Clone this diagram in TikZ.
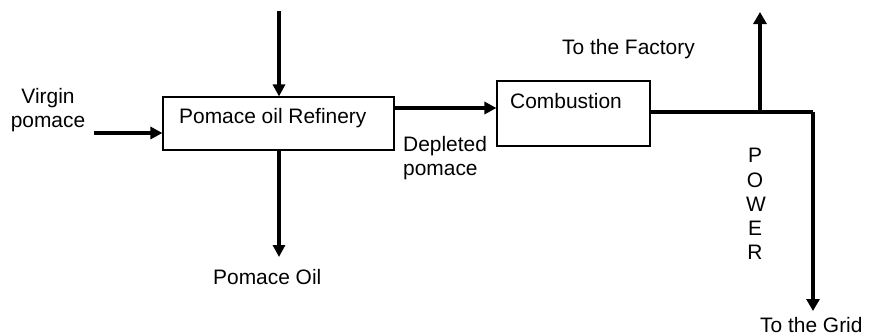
\documentclass[tikz,border=0pt]{standalone}
\usepackage{fontspec}
\setmainfont{Liberation Sans}
\usetikzlibrary{arrows.meta}
\begin{document}
\begin{tikzpicture}[x=1bp,y=-1bp,
  every node/.style={font=\fontsize{21}{24}\selectfont, inner sep=0pt},
  boxnode/.style={draw, line width=1.1bp, minimum width=#1, inner sep=0pt},
  flow/.style={line width=3.6bp, -{Triangle[length=12bp,width=12bp]}},
  powerline/.style={line width=4.5bp},
  powerarrow/.style={line width=4.5bp, -{Triangle[length=12bp,width=13bp]}}]
\useasboundingbox (0,0) rectangle (873,335);
% boxes
\node[boxnode=231bp, minimum height=53bp] (ref) at (278.5,123.5) {};
\node[anchor=base west] (reft) at (179,123) {Pomace oil Refinery};
\node[boxnode=153bp, minimum height=65bp] (comb) at (573.5,113.5) {};
\node[anchor=base west] (combt) at (510,108) {Combustion};
% coordinates
\coordinate (topin) at (279,11);
\coordinate (vin) at (94,133);
\coordinate (oilout) at (279,257);
\coordinate (corner) at (813,112);
\coordinate (split) at (760,112);
\coordinate (factory) at (760,12);
\coordinate (grid) at (813,311);
% connectors
\draw[flow] (topin) -- (topin |- ref.north);
\draw[flow] (vin) -- (vin -| ref.west);
\draw[flow] (ref.south -| oilout) -- (oilout);
\draw[flow] (ref.east |- 0,108) -- (comb.west |- 0,108);
\draw[powerline] (comb.east |- corner) -- (corner);
\draw[powerarrow] (split) -- (factory);
\draw[powerarrow] (corner) -- (grid);
% labels
\node[align=center, anchor=base] (virgin) at (48,127) {Virgin\\pomace};
\node[anchor=base west] (oil) at (213,284) {Pomace Oil};
\node[align=left, anchor=base west] (depl) at (403,175) {Depleted\\pomace};
\node[anchor=base west] (fact) at (562,54) {To the Factory};
\node[anchor=base west] (gridt) at (760,332) {To the Grid};
\node[anchor=base] (p1) at (755,162) {P};
\node[anchor=base] (p2) at (755,187) {O};
\node[anchor=base] (p3) at (756,211) {W};
\node[anchor=base] (p4) at (755,235) {E};
\node[anchor=base] (p5) at (755,259) {R};
\end{tikzpicture}
\end{document}
